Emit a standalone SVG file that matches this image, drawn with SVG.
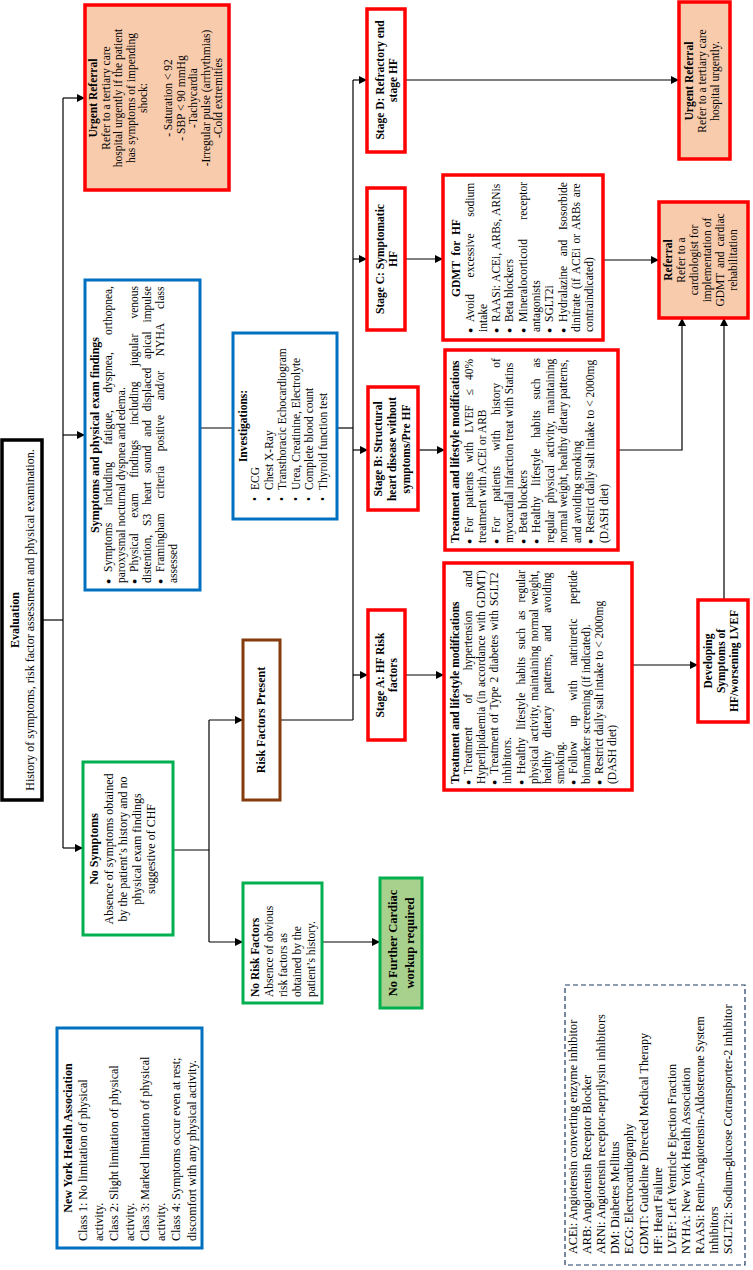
<svg xmlns="http://www.w3.org/2000/svg" width="753" height="1270" viewBox="0 0 753 1270">
<style>
.t{font-family:"Liberation Serif","Times New Roman",serif;font-size:11.5px;fill:#000}
.b{font-weight:bold}
.c{text-anchor:middle}
.s12{font-size:12px}
.bl{font-size:8.5px}
.red{fill:#fff;stroke:#ff0000;stroke-width:3.5}
.redo{fill:#f8cbad;stroke:#ff0000;stroke-width:3.5}
.blue{fill:#fff;stroke:#0070c0;stroke-width:3}
.green{fill:#fff;stroke:#00b050;stroke-width:3}
.greenf{fill:#a9d18e;stroke:#00b050;stroke-width:3}
.blk{fill:#fff;stroke:#000;stroke-width:3.5}
.brown{fill:#fff;stroke:#843c0c;stroke-width:3}
.leg{fill:#fff;stroke:#1f3864;stroke-width:1.2;stroke-dasharray:5 3}
.ln{fill:none;stroke:#000;stroke-width:1.2}
.ar{marker-end:url(#ah)}
</style>
<defs>
<marker id="ah" markerUnits="userSpaceOnUse" markerWidth="8" markerHeight="8" refX="8" refY="4" orient="auto">
<path d="M0,0 L8,4 L0,8 z" fill="#000"/>
</marker>
</defs>
<rect width="753" height="1270" fill="#fff"/>
<g transform="matrix(0,-1,1,0,0,1270)">

<g id="connectors">
<path class="ln" d="M650,42 V63"/>
<path class="ln" d="M422,63 H1172"/>
<path class="ln ar" d="M422,63 V83"/>
<path class="ln ar" d="M835,63 V85"/>
<path class="ln ar" d="M1172,63 V85"/>
<path class="ln" d="M842,200 V233"/>
<path class="ln" d="M842,337 V353"/>
<path class="ln" d="M550,353 H1190"/>
<path class="ln ar" d="M1190,353 V367"/>
<path class="ln ar" d="M1011,353 V367"/>
<path class="ln ar" d="M820,353 V368"/>
<path class="ln ar" d="M595,353 V368"/>
<path class="ln ar" d="M1190,405 V679"/>
<path class="ln ar" d="M1011,405 V443"/>
<path class="ln ar" d="M820,418 V445"/>
<path class="ln ar" d="M595,405 V444"/>
<path class="ln ar" d="M1010,603 V659"/>
<path class="ln ar" d="M820,618 V682 H952"/>
<path class="ln ar" d="M670,724 H952"/>
<path class="ln ar" d="M605,632 V698"/>
<path class="ln" d="M420,173 V209"/>
<path class="ln" d="M328,209 H550"/>
<path class="ln ar" d="M328,209 V243"/>
<path class="ln ar" d="M550,209 V243"/>
<path class="ln" d="M550,280 V353"/>
<path class="ln ar" d="M328,322 V380"/>
</g>

<g id="evaluation">
<rect class="blk" x="470" y="2" width="360" height="40"/>
<text class="t b c s12" x="650" y="19">Evaluation</text>
<text class="t c s12" x="650" y="34">History of symptoms, risk factor assessment and physical examination.</text>
</g>

<g id="urgent-referral-1">
<rect class="redo" x="1080" y="85" width="185" height="144"/>
<text class="t b c" x="1172" y="97">Urgent Referral</text>
<text class="t c" x="1172" y="109.5">Refer to a tertiary care</text>
<text class="t c" x="1172" y="122">hospital urgently if the patient</text>
<text class="t c" x="1172" y="134.5">has symptoms of impending</text>
<text class="t c" x="1172" y="147">shock:</text>
<text class="t c" x="1172" y="172">- Saturation &lt; 92</text>
<text class="t c" x="1172" y="184.5">- SBP &lt; 90 mmHg</text>
<text class="t c" x="1172" y="197">-Tachycardia</text>
<text class="t c" x="1172" y="209.5">-Irregular pulse (arrhythmias)</text>
<text class="t c" x="1172" y="222">-Cold extremities</text>
</g>

<g id="symptoms">
<rect class="blue" x="680" y="85" width="310" height="115"/>
<text class="t b c s12" x="835" y="99">Symptoms and physical exam findings</text>
<text class="t bl" x="686" y="111">●</text>
<text class="t" x="698" y="112" word-spacing="14.4">Symptoms including fatigue, dyspnea, orthopnea,</text>
<text class="t" x="687" y="125">paroxysmal nocturnal dyspnea and edema.</text>
<text class="t bl" x="686" y="137">●</text>
<text class="t" x="698" y="138" word-spacing="12.3">Physical exam findings including jugular venous</text>
<text class="t" x="687" y="151" word-spacing="6">distention, S3 heart sound and displaced apical impulse</text>
<text class="t bl" x="686" y="163">●</text>
<text class="t" x="698" y="164" word-spacing="11.8">Framingham criteria positive and/or NYHA class</text>
<text class="t" x="687" y="177">assessed</text>
</g>

<g id="investigations">
<rect class="blue" x="751" y="233" width="186" height="104"/>
<text class="t b c" x="844" y="247">Investigations:</text>
<text class="t" x="769" y="259">•</text><text class="t" x="780" y="259">ECG</text>
<text class="t" x="769" y="272.5">•</text><text class="t" x="780" y="272.5">Chest X-Ray</text>
<text class="t" x="769" y="286">•</text><text class="t" x="780" y="286">Transthoracic Echocardiogram</text>
<text class="t" x="769" y="299.5">•</text><text class="t" x="780" y="299.5">Urea, Creatinine, Electrolyte</text>
<text class="t" x="769" y="313">•</text><text class="t" x="780" y="313">Complete blood count</text>
<text class="t" x="769" y="326.5">•</text><text class="t" x="780" y="326.5">Thyroid function test</text>
</g>

<g id="no-symptoms">
<rect class="green" x="335" y="83" width="173" height="90"/>
<text class="t b c s12" x="421" y="98">No Symptoms</text>
<text class="t c s12" x="421" y="113">Absence of symptoms obtained</text>
<text class="t c s12" x="421" y="127">by the patient’s history and no</text>
<text class="t c s12" x="421" y="141">physical exam findings</text>
<text class="t c s12" x="421" y="155">suggestive of CHF</text>
</g>

<g id="nyha">
<rect class="blue" x="22" y="57" width="220" height="145"/>
<text class="t b c s12" x="132" y="72">New York Health Association</text>
<text class="t s12" x="29" y="87">Class 1: No limitation of physical</text>
<text class="t s12" x="29" y="102.5">activity.</text>
<text class="t s12" x="29" y="118">Class 2: Slight limitation of physical</text>
<text class="t s12" x="29" y="133.5">activity.</text>
<text class="t s12" x="29" y="149">Class 3: Marked limitation of physical</text>
<text class="t s12" x="29" y="164.5">activity.</text>
<text class="t s12" x="29" y="180">Class 4: Symptoms occur even at rest;</text>
<text class="t s12" x="29" y="195.5">discomfort with any physical activity.</text>
</g>

<g id="risk-factors-present">
<rect class="brown" x="470" y="243" width="160" height="37"/>
<text class="t b c s12" x="550" y="265">Risk Factors Present</text>
</g>

<g id="no-risk-factors">
<rect class="green" x="267" y="243" width="120" height="79"/>
<text class="t b" x="273" y="259">No Risk Factors</text>
<text class="t" x="273" y="273">Absence of obvious</text>
<text class="t" x="273" y="287">risk factors as</text>
<text class="t" x="273" y="301">obtained by the</text>
<text class="t" x="273" y="315">patient’s history.</text>
</g>

<g id="no-further">
<rect class="greenf" x="262" y="380" width="130" height="42"/>
<text class="t b c" style="font-size:12.5px" x="327" y="397">No Further Cardiac</text>
<text class="t b c" style="font-size:12.5px" x="327" y="414">workup required</text>
</g>

<g id="stage-d">
<rect class="red" x="1118" y="367" width="143" height="38"/>
<text class="t b c" x="1190" y="384">Stage D: Refractory end</text>
<text class="t b c" x="1190" y="397">stage HF</text>
</g>

<g id="stage-c">
<rect class="red" x="940" y="367" width="142" height="38"/>
<text class="t b c" x="1011" y="384">Stage C: Symptomatic</text>
<text class="t b c" x="1011" y="397">HF</text>
</g>

<g id="stage-b">
<rect class="red" x="760" y="368" width="123" height="50"/>
<text class="t b c" x="821" y="382">Stage B: Structural</text>
<text class="t b c" x="821" y="396">heart disease without</text>
<text class="t b c" x="821" y="410">symptoms/Pre HF</text>
</g>

<g id="stage-a">
<rect class="red" x="530" y="368" width="130" height="37"/>
<text class="t b c" x="595" y="384">Stage A: HF Risk</text>
<text class="t b c" x="595" y="397">factors</text>
</g>

<g id="gdmt">
<rect class="red" x="930" y="443" width="165" height="160"/>
<text class="t b c" x="1012" y="460" word-spacing="3">GDMT for HF</text>
<text class="t bl" x="937" y="473">●</text>
<text class="t" x="948" y="474" word-spacing="13.8">Avoid excessive sodium</text>
<text class="t" x="938" y="487">intake</text>
<text class="t bl" x="937" y="499">●</text>
<text class="t" x="948" y="500" word-spacing="0.8">RAASi: ACEi, ARBs, ARNis</text>
<text class="t bl" x="937" y="512">●</text>
<text class="t" x="948" y="513">Beta blockers</text>
<text class="t bl" x="937" y="526">●</text>
<text class="t" x="948" y="527" word-spacing="16.4">Mineralocorticoid receptor</text>
<text class="t" x="938" y="540">antagonists</text>
<text class="t bl" x="937" y="552">●</text>
<text class="t" x="948" y="553">SGLT2i</text>
<text class="t bl" x="937" y="566">●</text>
<text class="t" x="948" y="567" word-spacing="6.7">Hydralazine and Isosorbide</text>
<text class="t" x="938" y="580" word-spacing="1.7">dinitrate (if ACEi or ARBs are</text>
<text class="t" x="938" y="593">contraindicated)</text>
</g>

<g id="treatment-b">
<rect class="red" x="720" y="445" width="200" height="173"/>
<text class="t b" x="727" y="459">Treatment and lifestyle modifications</text>
<text class="t bl" x="726" y="471.5">●</text>
<text class="t" x="737" y="472.5" word-spacing="6.5">For patients with LVEF ≤ 40%</text>
<text class="t" x="727" y="486">treatment with ACEi or ARB</text>
<text class="t bl" x="726" y="498.5">●</text>
<text class="t" x="737" y="499.5" word-spacing="12.4">For patients with history of</text>
<text class="t" x="727" y="513">myocardial infarction treat with Statins</text>
<text class="t bl" x="726" y="525.5">●</text>
<text class="t" x="737" y="526.5">Beta blockers</text>
<text class="t bl" x="726" y="539">●</text>
<text class="t" x="737" y="540" word-spacing="8">Healthy lifestyle habits such as</text>
<text class="t" x="727" y="553.5" word-spacing="4.4">regular physical activity, maintaining</text>
<text class="t" x="727" y="567">normal weight, healthy dietary patterns,</text>
<text class="t" x="727" y="580.5">and avoiding smoking</text>
<text class="t bl" x="726" y="593">●</text>
<text class="t" x="737" y="594">Restrict daily salt intake to &lt; 2000mg</text>
<text class="t" x="727" y="607.5">(DASH diet)</text>
</g>

<g id="treatment-a">
<rect class="red" x="480" y="444" width="227" height="188"/>
<text class="t b" x="486" y="459">Treatment and lifestyle modifications</text>
<text class="t bl" x="485" y="471">●</text>
<text class="t" x="496" y="472.1" word-spacing="20.8">Treatment of hypertension and</text>
<text class="t" x="486" y="485.2" word-spacing="0.6">Hyperlipidaemia (in accordance with GDMT)</text>
<text class="t bl" x="485" y="497.3">●</text>
<text class="t" x="496" y="498.3" word-spacing="1.3">Treatment of Type 2 diabetes with SGLT2</text>
<text class="t" x="486" y="511.4">inhibitors.</text>
<text class="t bl" x="485" y="523.5">●</text>
<text class="t" x="496" y="524.5" word-spacing="5.1">Healthy lifestyle habits such as regular</text>
<text class="t" x="486" y="537.6" word-spacing="1.3">physical activity, maintaining normal weight,</text>
<text class="t" x="486" y="550.7" word-spacing="9.5">healthy dietary patterns, and avoiding</text>
<text class="t" x="486" y="563.8">smoking.</text>
<text class="t bl" x="485" y="575.9">●</text>
<text class="t" x="496" y="576.9" word-spacing="11.7">Follow up with natriuretic peptide</text>
<text class="t" x="486" y="590">biomarker screening (if indicated).</text>
<text class="t bl" x="485" y="602.1">●</text>
<text class="t" x="496" y="603.1">Restrict daily salt intake to &lt; 2000mg</text>
<text class="t" x="486" y="616.2">(DASH diet)</text>
</g>

<g id="developing">
<rect class="red" x="548" y="698" width="122" height="50"/>
<text class="t b c" x="609" y="712">Developing</text>
<text class="t b c" x="609" y="725">Symptoms of</text>
<text class="t b c" x="609" y="738">HF/worsening LVEF</text>
</g>

<g id="referral">
<rect class="redo" x="952" y="659" width="116" height="89"/>
<text class="t b c" x="1010" y="672">Referral</text>
<text class="t c" x="1010" y="685">Refer to a</text>
<text class="t c" x="1010" y="698">cardiologist for</text>
<text class="t c" x="1010" y="711">implementation of</text>
<text class="t c" x="1010" y="724" word-spacing="2">GDMT and cardiac</text>
<text class="t c" x="1010" y="737">rehabilitation</text>
</g>

<g id="urgent-referral-2">
<rect class="redo" x="1111" y="679" width="157" height="51"/>
<text class="t b c" x="1189" y="693">Urgent Referral</text>
<text class="t c" x="1189" y="706">Refer to a tertiary care</text>
<text class="t c" x="1189" y="719">hospital urgently.</text>
</g>

<g id="legend">
<rect class="leg" x="5" y="565" width="280" height="180"/>
<text class="t" style="font-size:12.2px" x="16" y="577">ACEi: Angiotensin converting enzyme inhibitor</text>
<text class="t" style="font-size:12.2px" x="16" y="591">ARB: Angiotensin Receptor Blocker</text>
<text class="t" style="font-size:12.2px" x="16" y="605">ARNi: Angiotensin receptor-neprilysin inhibitors</text>
<text class="t" style="font-size:12.2px" x="16" y="619">DM: Diabetes Mellitus</text>
<text class="t" style="font-size:12.2px" x="16" y="633">ECG: Electrocardiography</text>
<text class="t" style="font-size:12.2px" x="16" y="648">GDMT: Guideline Directed Medical Therapy</text>
<text class="t" style="font-size:12.2px" x="16" y="662">HF: Heart Failure</text>
<text class="t" style="font-size:12.2px" x="16" y="676">LVEF: Left Ventricle Ejection Fraction</text>
<text class="t" style="font-size:12.2px" x="16" y="690">NYHA: New York Health Association</text>
<text class="t" style="font-size:12.2px" x="16" y="704">RAASi: Renin-Angiotensin-Aldosterone System</text>
<text class="t" style="font-size:12.2px" x="16" y="718">Inhibitors</text>
<text class="t" style="font-size:12.2px" x="16" y="732">SGLT2i: Sodium-glucose Cotransporter-2 inhibitor</text>
</g>

</g>
</svg>
